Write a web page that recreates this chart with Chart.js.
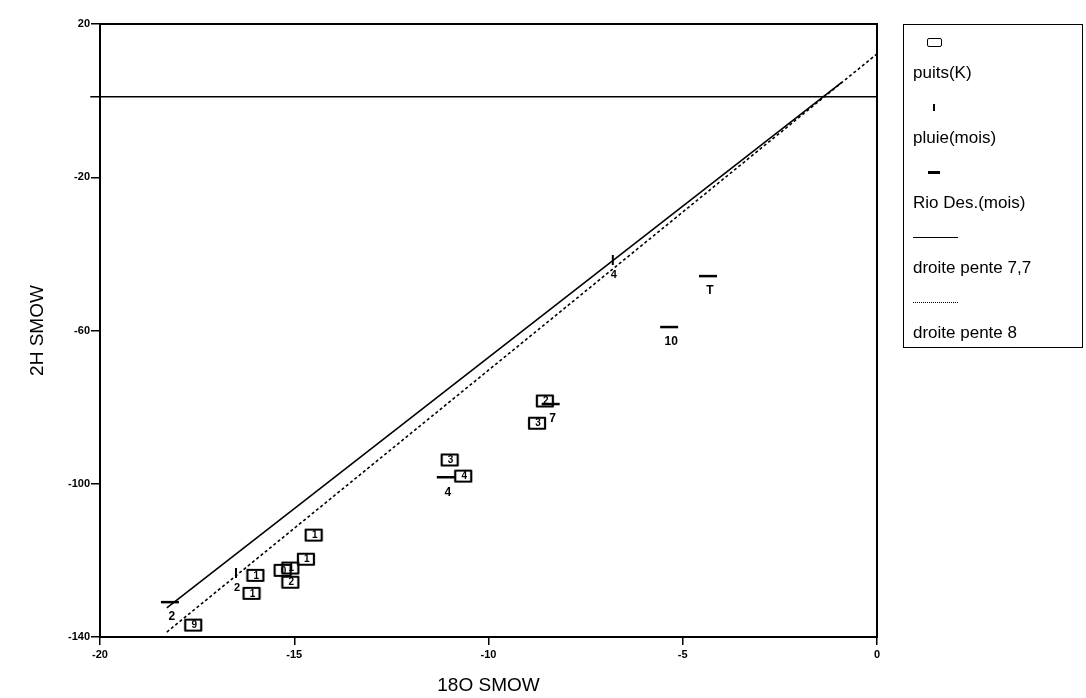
<!DOCTYPE html>
<html>
<head>
<meta charset="utf-8">
<script src="https://cdn.jsdelivr.net/npm/chart.js@4/dist/chart.umd.min.js"></script>
<style>
  body { margin: 0; background: #fff; }
  #cadre { position: relative; width: 1086px; height: 698px; }
  #legende {
    position: absolute; left: 903px; top: 24px; width: 180px; height: 324px;
    border: 1.5px solid #000; box-sizing: border-box;
    font-family: "Liberation Sans", Arial, sans-serif; font-size: 17px; color: #000;
  }
  #legende .txt { position: absolute; left: 9px; transform: translateY(-50%); white-space: nowrap; }
  #legende .mk { position: absolute; }
</style>
</head>
<body>
<div id="cadre">
  <canvas id="grafico" width="1086" height="698"></canvas>
  <div id="legende"></div>
</div>
<script>
// Données (18O et 2H SMOW)
const puitsX = [-17.6, -16.0, -16.1, -15.3, -15.1, -15.1, -14.7, -14.5, -8.55, -8.75, -11.0, -10.65];
const puitsY = [-136.9, -123.9, -128.6, -122.6, -122.0, -125.7, -119.7, -113.4, -78.4, -84.2, -93.8, -98.0];
const puitsNum = ["9", "1", "1", "0", "1", "2", "1", "1", "2", "3", "3", "4"];

const pluieX = [-16.5, -6.8];
const pluieY = [-123.3, -41.6];
const pluieMois = ["2", "4"];

const rioX = [-18.2, -11.1, -8.4, -4.35, -5.35];
const rioY = [-130.9, -98.3, -79.2, -45.8, -59.1];
const rioMois = ["2", "4", "7", "T", "10"];

const droite77X = [-18.28, -0.9];
const droite77Y = [-132.4, 4.85];
const droite8X = [-18.28, 0];
const droite8Y = [-138.7, 12.2];

const ligneX = [-20.25, 0];
const ligneY = [1, 1];

const ticksX = [-20, -15, -10, -5, 0];
const ticksY = [20, -20, -60, -100, -140];

const points = (xs, ys) => xs.map((x, i) => ({ x: x, y: ys[i] }));

// petit rectangle pour les puits
function boite() {
  const c = document.createElement("canvas");
  c.width = 20; c.height = 15;
  const g = c.getContext("2d");
  g.strokeStyle = "#000";
  g.lineWidth = 2.2;
  g.lineJoin = "round";
  g.strokeRect(2, 2, 16, 11);
  return c;
}

// cadre autour de la zone du graphique
const cadrePlugin = {
  id: "cadre",
  afterDraw(chart) {
    const a = chart.chartArea, ctx = chart.ctx;
    ctx.save();
    ctx.strokeStyle = "#000";
    ctx.lineWidth = 2;
    ctx.strokeRect(a.left, a.top, a.right - a.left, a.bottom - a.top);
    ctx.restore();
  }
};

// numéros / mois écrits près des points
const etiquettesPlugin = {
  id: "etiquettes",
  afterDatasetsDraw(chart) {
    const ctx = chart.ctx;
    chart.data.datasets.forEach((ds, i) => {
      if (!ds.etiquettes) return;
      const meta = chart.getDatasetMeta(i);
      ctx.save();
      ctx.fillStyle = "#000";
      ctx.textAlign = "center";
      ctx.textBaseline = "middle";
      ctx.font = ds.etiquetteFont;
      meta.data.forEach((pt, j) => {
        ctx.fillText(ds.etiquettes[j], pt.x + ds.decalage[0], pt.y + ds.decalage[1]);
      });
      ctx.restore();
    });
  }
};

const ctx = document.getElementById("grafico").getContext("2d");
const graphique = new Chart(ctx, {
  type: "scatter",
  data: {
    datasets: [
      {
        label: "puits(K)",
        data: points(puitsX, puitsY),
        pointStyle: boite(),
        etiquettes: puitsNum, etiquetteFont: "bold 10px 'Liberation Sans', Arial", decalage: [1, 0.5]
      },
      {
        label: "pluie(mois)",
        data: points(pluieX, pluieY),
        pointStyle: "line", pointRotation: 90, pointRadius: 5, borderColor: "#000", borderWidth: 2,
        etiquettes: pluieMois, etiquetteFont: "bold 11px 'Liberation Sans', Arial", decalage: [1, 15]
      },
      {
        label: "Rio Des.(mois)",
        data: points(rioX, rioY),
        pointStyle: "line", pointRadius: 9, borderColor: "#000", borderWidth: 2.5,
        etiquettes: rioMois, etiquetteFont: "bold 12px 'Liberation Sans', Arial", decalage: [2, 15]
      },
      {
        label: "droite pente 7,7",
        data: points(droite77X, droite77Y),
        showLine: true, pointRadius: 0, borderColor: "#000", borderWidth: 1.6
      },
      {
        label: "droite pente 8",
        data: points(droite8X, droite8Y),
        showLine: true, pointRadius: 0, borderColor: "#000", borderWidth: 1.6, borderDash: [3, 2.5]
      },
      {
        label: "",
        data: points(ligneX, ligneY),
        showLine: true, pointRadius: 0, borderColor: "#000", borderWidth: 1.6, clip: 12
      }
    ]
  },
  options: {
    responsive: false,
    animation: false,
    layout: { padding: { top: 24, right: 209, bottom: 0, left: 0 } },
    plugins: { legend: { display: false }, tooltip: { enabled: false } },
    scales: {
      x: {
        type: "linear", min: -20, max: 0,
        afterFit: s => { s.height = 61; },
        afterBuildTicks: s => { s.ticks = ticksX.map(v => ({ value: v })); },
        grid: { drawOnChartArea: false, drawTicks: true, tickLength: 8, color: "#000", lineWidth: 1.5 },
        border: { display: true, color: "#000", width: 2 },
        ticks: { color: "#000", padding: 3, font: { family: "'Liberation Sans', Arial", size: 11, weight: "bold" } },
        title: { display: true, text: "18O SMOW", color: "#000", padding: { top: 0, bottom: 1 },
                 font: { family: "'Liberation Sans', Arial", size: 19 } }
      },
      y: {
        type: "linear", min: -140, max: 20,
        afterFit: s => { s.width = 100; },
        afterBuildTicks: s => { s.ticks = ticksY.map(v => ({ value: v })); },
        grid: { drawOnChartArea: false, drawTicks: true, tickLength: 9, color: "#000", lineWidth: 1.5 },
        border: { display: true, color: "#000", width: 2 },
        ticks: { color: "#000", padding: 1, font: { family: "'Liberation Sans', Arial", size: 11, weight: "bold" } },
        title: { display: true, text: "2H SMOW", color: "#000", padding: { top: 26, bottom: 0 },
                 font: { family: "'Liberation Sans', Arial", size: 19 } }
      }
    }
  },
  plugins: [cadrePlugin, etiquettesPlugin]
});

// Légende à droite : symbole au-dessus du texte
const legende = document.getElementById("legende");
const symboles = [
  "left:23px;width:15px;height:9px;border:1.8px solid #000;border-radius:2px;box-sizing:border-box;margin-top:-4px;",
  "left:29px;width:2px;height:7px;background:#000;margin-top:-3px;",
  "left:24px;width:12px;height:2.5px;background:#000;margin-top:-1px;",
  "left:9px;width:45px;border-top:1.5px solid #000;",
  "left:9px;width:45px;border-top:1.5px dotted #000;"
];
graphique.data.datasets.slice(0, 5).forEach((ds, i) => {
  const haut = 17 + i * 65;
  legende.innerHTML += `<div class="mk" style="top:${haut}px;${symboles[i]}"></div>` +
    `<div class="txt" style="top:${haut + 31}px">${ds.label}</div>`;
});
</script>
</body>
</html>
